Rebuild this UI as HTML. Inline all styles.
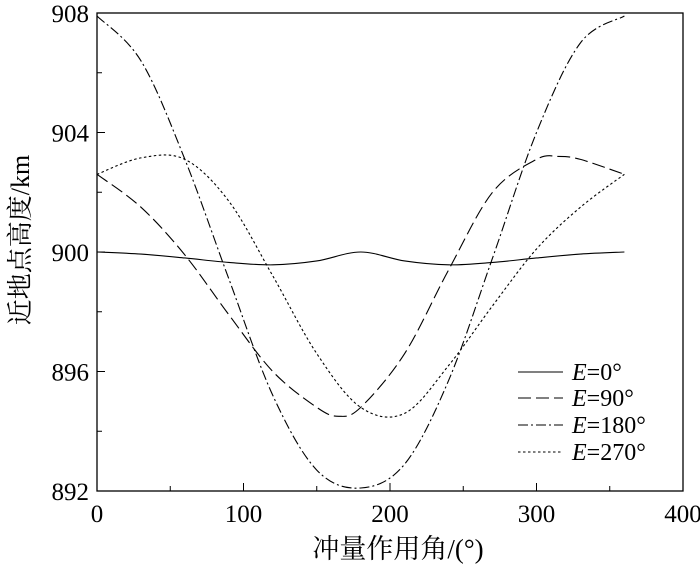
<!DOCTYPE html>
<html><head><meta charset="utf-8"><style>
html,body{margin:0;padding:0;background:#fff;}
svg{display:block;font-family:"Liberation Serif","Noto Serif CJK SC",serif;}
</style></head><body>
<svg id="chart" width="700" height="564"></svg>
<script>
const xTicks=[0,100,200,300,400];
const yTicks=[892,896,900,904,908];
const seriesNames=["E=0°","E=90°","E=180°","E=270°"];
const x0=[0,30,60,90,120,150,180,210,240,270,300,330,360];
const y0=[900,899.93,899.8,899.65,899.57,899.7,900,899.7,899.57,899.65,899.8,899.93,900];
const x90=[0,30,60,90,120,150,165,180,210,240,270,300,315,330,360];
const y90=[902.6,901.5,899.9,897.9,896,894.8,894.5,894.8,896.6,899.4,902,903.1,903.2,903.1,902.6];
const x180=[0,30,60,90,120,150,180,210,240,270,300,330,360];
const y180=[907.9,906.4,903.1,899.1,895.2,892.7,892.1,892.9,895.7,899.8,904,907,907.9];
const x270=[0,30,60,90,120,150,180,210,240,270,300,330,360];
const y270=[902.6,903.15,903.1,901.7,899.2,896.6,894.8,894.6,896.2,898.2,900.1,901.5,902.6];

const NS="http://www.w3.org/2000/svg";
const svg=document.getElementById('chart');
const L=97,R=683,T=13,B=491;
const sx=v=>L+(v-0)/400*(R-L);
const sy=v=>B-(v-892)/16*(B-T);
function mk(tag,a,parent){const e=document.createElementNS(NS,tag);for(const k in a)e.setAttribute(k,a[k]);(parent||svg).appendChild(e);return e;}
const frame=mk('rect',{x:L,y:T,width:R-L,height:B-T,fill:'none',stroke:'#000','stroke-width':1.3});


for(let v=0;v<=400;v+=50){const major=v%100===0;const t=mk('line',{x1:sx(v),x2:sx(v),y1:B,y2:B-(major?8:5),stroke:'#000','stroke-width':1});

}
xTicks.forEach(v=>{const t=mk('text',{x:sx(v),y:522,'text-anchor':'middle','font-size':25});t.textContent=v;

});
for(let v=892;v<=908;v+=2){const major=v%4===0;const t=mk('line',{x1:L,x2:L+(major?8:5),y1:sy(v),y2:sy(v),stroke:'#000','stroke-width':1});

}
yTicks.forEach(v=>{const t=mk('text',{x:89,y:sy(v)+9,'text-anchor':'end','font-size':25});t.textContent=v;

});
const xt=mk('text',{x:398,y:558,'text-anchor':'middle','font-size':27});xt.textContent='冲量作用角/(°)';


const yt=mk('text',{x:0,y:0,'text-anchor':'middle','font-size':26,transform:'translate(29,240) rotate(-90)'});yt.textContent='近地点高度/km';


function pathFor(xs,ys){const p=xs.map((x,i)=>[sx(x),sy(ys[i])]);let d='M'+p[0][0]+','+p[0][1];
for(let i=0;i<p.length-1;i++){const a=p[i-1]||p[i],b=p[i],c=p[i+1],e=p[i+2]||p[i+1];
d+=` C${b[0]+(c[0]-a[0])/6},${b[1]+(c[1]-a[1])/6} ${c[0]-(e[0]-b[0])/6},${c[1]-(e[1]-b[1])/6} ${c[0]},${c[1]}`;}return d;}
const dashes=['',"13,5","10,3,2,3","2.5,2.5"];
const data=[[x0,y0],[x90,y90],[x180,y180],[x270,y270]];
const names=['line-e0','line-e90','line-e180','line-e270'];
data.forEach((s,i)=>{const p=mk('path',{d:pathFor(s[0],s[1]),fill:'none',stroke:'#000','stroke-width':1.1,'stroke-dasharray':dashes[i]});

});
const ly=[372,398,425,452];
seriesNames.forEach((n,i)=>{const g=mk('g',{});


mk('line',{x1:518,x2:563,y1:ly[i],y2:ly[i],stroke:'#000','stroke-width':1.1,'stroke-dasharray':dashes[i]},g);
const t=mk('text',{x:572,y:ly[i]+8,'font-size':24},g);
const it=mk('tspan',{'font-style':'italic'},t);it.textContent='E';
const r=mk('tspan',{},t);r.textContent=n.slice(1);});
</script>
</body></html>
